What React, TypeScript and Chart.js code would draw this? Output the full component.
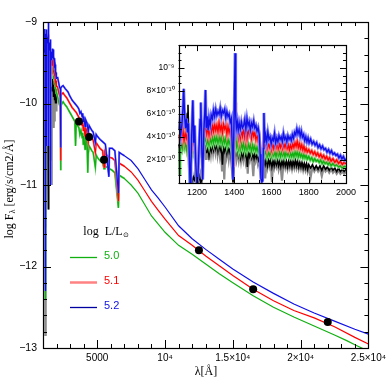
import React, { useEffect, useRef } from 'react';
import { Chart, registerables } from 'chart.js';
Chart.register(...registerables);

// ---------- tick labels ----------
const MAIN_X_TICKS = [5000, 10000, 15000, 20000, 25000];
const MAIN_X_LABELS = ['5000', '10⁴', '1.5×10⁴', '2×10⁴', '2.5×10⁴'];
const MAIN_Y_TICKS = [-13, -12, -11, -10, -9];
const MAIN_Y_LABELS = ['−13', '−12', '−11', '−10', '−9'];
const INSET_X_TICKS = [1200, 1400, 1600, 1800, 2000];
const INSET_X_LABELS = ['1200', '1400', '1600', '1800', '2000'];
const INSET_Y_TICKS = [2, 4, 6, 8, 10];
const INSET_Y_LABELS = ['2×10⁻¹⁰', '4×10⁻¹⁰', '6×10⁻¹⁰', '8×10⁻¹⁰', '10⁻⁹'];
const LEGEND_TITLE = 'log  L/L';
const LEGEND_LABELS = ['5.0', '5.1', '5.2'];

// ---------- photometry (log F) ----------
const PHOT_WL = [3650, 4400, 5500, 12500, 16500, 22000];
const PHOT_LOGF = [-10.22, -10.41, -10.69, -11.8, -12.28, -12.68];

// ---------- UV spectra, flux in units of 1e-10 erg/s/cm2/Å ----------
const UV_52: [number, number][] = [[1100,4.6],[1106,5.4],[1112,4.2],[1118,5.0],[1124,6.5],[1128,8.2],[1133,5.8],[1138,4.8],[1143,5.6],[1148,4.4],[1153,5.2],[1158,2.5],[1162,0.06],[1167,1.5],[1172,4.8],[1177,7.2],[1182,3.5],[1187,5.0],[1192,2.0],[1198,0.005],[1204,0.4],[1210,3.0],[1216,5.5],[1220,7.0],[1225,3.0],[1230,0.3],[1236,4.5],[1241,6.0],[1245,8.1],[1249,4.8],[1254,5.8],[1259,4.6],[1264,5.6],[1270,5.0],[1276,5.9],[1282,5.6],[1288,6.3],[1294,5.8],[1300,6.4],[1306,5.9],[1312,6.2],[1318,6.0],[1324,6.5],[1330,5.8],[1336,6.3],[1342,6.1],[1348,6.4],[1354,5.7],[1360,6.2],[1366,5.8],[1372,6.0],[1378,5.3],[1384,5.6],[1389,3.0],[1393,0.3],[1397,0.3],[1401,8.0],[1404,11.3],[1407,6.0],[1411,4.8],[1416,5.3],[1421,4.6],[1426,5.2],[1432,4.7],[1438,5.3],[1444,4.8],[1450,5.0],[1456,5.5],[1462,4.7],[1468,5.6],[1474,5.0],[1480,5.3],[1486,4.6],[1492,5.2],[1498,4.9],[1504,5.4],[1510,4.8],[1516,5.0],[1522,4.5],[1528,4.8],[1534,4.2],[1539,2.5],[1543,0.4],[1548,0.1],[1552,0.2],[1556,3.0],[1559,6.1],[1563,3.5],[1568,4.2],[1574,3.6],[1580,4.4],[1586,3.8],[1592,4.0],[1598,3.4],[1604,3.9],[1610,3.7],[1616,4.3],[1622,3.5],[1628,3.9],[1634,3.6],[1640,4.1],[1646,3.8],[1652,4.0],[1658,3.6],[1664,4.3],[1670,3.8],[1676,4.0],[1682,3.6],[1688,4.1],[1694,3.8],[1700,4.0],[1706,3.7],[1712,4.2],[1718,3.9],[1724,4.4],[1730,4.2],[1736,4.7],[1742,4.3],[1748,4.6],[1754,4.1],[1760,4.5],[1766,4.0],[1772,4.2],[1778,3.7],[1784,4.0],[1790,3.6],[1796,3.9],[1802,3.5],[1810,3.8],[1818,3.4],[1826,3.6],[1834,3.3],[1842,3.5],[1850,3.1],[1858,3.3],[1866,3.0],[1874,3.2],[1882,2.9],[1890,3.0],[1898,2.7],[1906,2.9],[1914,2.6],[1922,2.8],[1930,2.5],[1938,2.6],[1946,2.4],[1954,2.5],[1962,2.2],[1970,2.4],[1978,2.1],[1986,2.3],[1994,2.0],[2000,2.1]];

const UV_51: [number, number][] = [[1100,4.2],[1106,3.8],[1112,4.5],[1118,4.0],[1124,4.6],[1130,3.7],[1136,4.3],[1142,3.9],[1148,4.4],[1154,3.2],[1160,1.0],[1166,2.5],[1172,4.0],[1178,3.5],[1184,4.2],[1190,2.2],[1197,0.5],[1204,1.2],[1210,3.0],[1216,3.8],[1222,4.5],[1228,2.5],[1234,3.8],[1240,4.4],[1246,5.2],[1252,4.3],[1258,4.8],[1264,4.2],[1270,4.9],[1276,4.4],[1282,5.0],[1288,4.5],[1294,5.1],[1300,4.6],[1306,5.0],[1312,4.5],[1318,5.2],[1324,4.6],[1330,5.0],[1336,4.4],[1342,5.1],[1348,4.7],[1354,5.0],[1360,4.3],[1366,4.9],[1372,4.4],[1378,4.8],[1384,4.0],[1389,3.0],[1393,1.5],[1397,2.0],[1401,5.5],[1404,7.0],[1408,5.2],[1412,4.2],[1417,4.8],[1422,4.0],[1427,4.7],[1432,3.9],[1438,4.6],[1444,4.1],[1450,4.8],[1456,4.0],[1462,4.6],[1468,3.9],[1474,4.7],[1480,4.2],[1486,4.5],[1492,3.9],[1498,4.6],[1504,4.1],[1510,4.4],[1516,3.8],[1522,4.3],[1528,3.7],[1534,4.0],[1540,2.8],[1546,1.8],[1552,2.2],[1558,3.8],[1564,3.2],[1570,3.6],[1576,3.0],[1582,3.5],[1588,3.1],[1594,3.4],[1600,2.9],[1606,3.5],[1612,3.0],[1618,3.4],[1624,3.1],[1630,3.6],[1636,3.0],[1642,3.4],[1648,3.1],[1654,3.5],[1660,3.0],[1666,3.4],[1672,3.1],[1678,3.5],[1684,3.0],[1690,3.3],[1696,2.9],[1702,3.3],[1708,3.0],[1714,3.4],[1720,3.1],[1726,3.5],[1732,3.2],[1738,3.6],[1744,3.1],[1750,3.4],[1756,3.0],[1762,3.3],[1768,2.9],[1774,3.2],[1780,2.8],[1786,3.0],[1792,2.7],[1800,2.9],[1808,2.6],[1816,2.8],[1824,2.5],[1832,2.7],[1840,2.4],[1848,2.6],[1856,2.3],[1864,2.5],[1872,2.2],[1880,2.4],[1888,2.1],[1896,2.3],[1904,2.0],[1912,2.2],[1920,1.9],[1930,2.1],[1940,1.8],[1950,2.0],[1960,1.7],[1970,1.9],[1980,1.6],[1990,1.8],[2000,1.65]];

const UV_50: [number, number][] = [[1100,3.0],[1104,0.8],[1108,2.8],[1114,3.4],[1120,3.0],[1126,3.6],[1132,3.1],[1138,3.5],[1144,2.9],[1150,3.4],[1156,2.2],[1161,0.004],[1166,2.0],[1172,3.3],[1178,2.8],[1184,3.4],[1190,2.0],[1196,0.5],[1203,1.0],[1210,2.6],[1216,3.2],[1222,3.6],[1228,2.2],[1234,3.2],[1240,3.6],[1246,3.9],[1252,3.4],[1258,3.8],[1264,3.3],[1270,3.9],[1276,3.5],[1282,4.0],[1288,3.5],[1294,4.0],[1300,3.6],[1306,4.0],[1312,3.5],[1318,4.1],[1324,3.6],[1330,4.0],[1336,3.4],[1342,3.9],[1348,3.5],[1354,3.9],[1360,3.3],[1366,3.8],[1372,3.4],[1378,3.7],[1384,3.0],[1389,2.4],[1393,1.6],[1397,2.0],[1401,4.2],[1404,5.0],[1408,3.8],[1412,3.2],[1417,3.6],[1422,3.0],[1427,3.5],[1432,2.9],[1438,3.4],[1444,3.0],[1450,3.5],[1456,2.9],[1462,3.4],[1468,2.9],[1474,3.4],[1480,3.0],[1486,3.3],[1492,2.8],[1498,3.3],[1504,2.9],[1510,3.2],[1516,2.8],[1522,3.1],[1528,2.7],[1534,3.0],[1540,2.2],[1546,1.6],[1552,1.9],[1558,2.9],[1564,2.5],[1570,2.8],[1576,2.3],[1582,2.7],[1588,2.4],[1594,2.7],[1600,2.3],[1606,2.7],[1612,2.4],[1618,2.7],[1624,2.3],[1630,2.8],[1636,2.4],[1642,2.7],[1648,2.3],[1654,2.7],[1660,2.4],[1666,2.7],[1672,2.3],[1678,2.7],[1684,2.4],[1690,2.6],[1696,2.3],[1702,2.6],[1708,2.3],[1714,2.6],[1720,2.3],[1726,2.7],[1732,2.4],[1738,2.7],[1744,2.3],[1750,2.6],[1756,2.3],[1762,2.5],[1768,2.2],[1774,2.5],[1780,2.2],[1786,2.4],[1792,2.1],[1800,2.3],[1808,2.0],[1816,2.2],[1824,1.9],[1832,2.1],[1840,1.9],[1848,2.0],[1856,1.8],[1864,2.0],[1872,1.7],[1880,1.9],[1888,1.7],[1896,1.8],[1904,1.6],[1912,1.8],[1920,1.5],[1930,1.7],[1940,1.5],[1950,1.6],[1960,1.4],[1970,1.5],[1980,1.3],[1990,1.45],[2000,1.4]];

const UV_OBS: [number, number][] = [[1100,3.4],[1106,2.6],[1112,3.8],[1118,2.9],[1124,4.2],[1130,3.0],[1136,4.8],[1142,3.6],[1147,6.0],[1151,6.8],[1155,4.0],[1160,1.0],[1165,0.03],[1172,0.04],[1180,0.5],[1188,0.2],[1196,1.5],[1204,0.04],[1212,0.6],[1220,0.04],[1228,0.4],[1234,2.2],[1240,3.6],[1246,4.9],[1252,2.6],[1258,3.3],[1264,2.4],[1270,3.2],[1276,2.8],[1282,3.4],[1288,2.9],[1294,3.5],[1300,3.0],[1306,3.5],[1312,2.8],[1318,3.4],[1324,2.9],[1330,3.4],[1336,1.6],[1342,3.3],[1348,2.8],[1354,3.3],[1360,2.6],[1366,3.2],[1372,2.7],[1378,3.1],[1384,2.4],[1389,1.2],[1393,0.05],[1397,0.05],[1401,2.5],[1405,3.4],[1410,2.6],[1416,3.0],[1422,2.4],[1428,2.9],[1434,2.2],[1440,2.8],[1446,2.3],[1452,2.9],[1458,2.4],[1464,2.8],[1470,1.4],[1476,2.7],[1482,2.3],[1488,2.7],[1494,2.2],[1500,2.6],[1506,2.1],[1512,2.6],[1518,2.2],[1524,2.5],[1530,2.0],[1536,2.3],[1542,1.2],[1548,0.2],[1554,1.0],[1560,2.0],[1566,1.6],[1572,2.1],[1578,1.5],[1584,2.0],[1590,1.6],[1596,2.1],[1602,1.4],[1608,1.9],[1614,1.5],[1620,2.0],[1626,1.6],[1632,2.0],[1638,1.5],[1644,1.9],[1650,1.4],[1656,1.9],[1662,1.5],[1668,2.0],[1674,1.5],[1680,1.9],[1686,1.4],[1692,1.9],[1698,1.5],[1704,1.9],[1710,1.4],[1716,1.9],[1722,1.5],[1728,2.0],[1734,1.5],[1740,1.9],[1746,1.4],[1752,1.8],[1758,1.4],[1764,1.8],[1770,1.3],[1776,1.7],[1782,1.3],[1788,1.7],[1794,1.2],[1800,1.6],[1810,1.3],[1820,1.6],[1830,1.2],[1840,1.5],[1850,1.2],[1860,1.5],[1870,1.1],[1880,1.5],[1890,1.2],[1900,1.4],[1910,1.1],[1920,1.4],[1930,1.1],[1940,1.3],[1950,1.0],[1960,1.3],[1970,1.0],[1980,1.2],[1990,1.0],[2000,1.2]];

const UV_OBS_RAW: [number, number][] = [[1100,3.0],[1108,4.0],[1114,2.5],[1120,4.5],[1126,3.2],[1132,5.5],[1138,3.4],[1144,5.2],[1150,6.2],[1156,3.0],[1162,0.0014],[1170,0.3],[1178,0.1],[1186,0.8],[1194,0.05],[1202,0.4],[1210,0.02],[1218,0.8],[1226,0.1],[1234,3.0],[1242,4.2],[1248,2.0],[1256,3.6],[1262,2.0],[1268,3.3],[1274,2.5],[1280,3.5],[1286,2.6],[1292,3.4],[1298,2.7],[1304,3.6],[1310,2.5],[1316,3.3],[1322,2.4],[1328,3.2],[1334,1.0],[1340,3.0],[1346,0.3],[1352,3.1],[1358,2.3],[1364,3.0],[1370,2.1],[1376,3.0],[1382,2.0],[1388,1.0],[1394,0.05],[1400,2.0],[1406,3.0],[1412,2.1],[1418,2.8],[1424,2.0],[1430,2.7],[1436,1.9],[1442,2.6],[1448,2.0],[1454,2.7],[1460,1.9],[1466,2.6],[1472,0.8],[1478,2.5],[1484,2.0],[1490,2.5],[1496,1.9],[1502,0.6],[1508,2.4],[1514,1.9],[1520,2.3],[1526,1.7],[1532,2.2],[1538,1.0],[1546,0.1],[1554,0.6],[1560,1.8],[1566,0.4],[1572,1.9],[1578,1.3],[1584,1.8],[1590,1.4],[1596,1.9],[1602,0.1],[1608,1.7],[1614,1.3],[1620,1.8],[1626,1.4],[1632,1.8],[1638,1.2],[1644,1.7],[1650,1.2],[1656,0.2],[1662,1.3],[1668,1.8],[1674,1.3],[1680,1.7],[1686,1.2],[1692,1.7],[1698,1.3],[1704,1.7],[1710,1.2],[1716,1.7],[1722,1.3],[1728,1.8],[1734,1.3],[1740,1.7],[1746,1.2],[1752,1.6],[1758,1.2],[1764,1.6],[1770,1.1],[1776,1.5],[1782,1.1],[1788,1.5],[1794,1.0],[1800,1.4],[1810,0.5],[1820,1.4],[1830,1.0],[1840,1.3],[1850,1.0],[1860,1.3],[1870,0.6],[1880,1.3],[1890,1.0],[1900,1.2],[1910,0.9],[1920,1.2],[1930,0.9],[1940,1.1],[1950,0.8],[1960,1.1],[1970,0.8],[1980,1.0],[1990,0.8],[2000,1.0]];

// ---------- optical / IR model SEDs, log F ----------
const OPT_52: [number, number][] = [[2080,-9.68],[2150,-9.74],[2220,-9.8],[2280,-9.82],[2300,-10.54],[2320,-9.81],[2400,-9.79],[2480,-9.78],[2560,-9.8],[2650,-9.82],[2750,-9.84],[2850,-9.86],[2950,-9.9],[3050,-9.93],[3150,-9.96],[3250,-9.98],[3350,-10.0],[3450,-10.02],[3550,-10.04],[3650,-10.07],[3720,-10.12],[3800,-10.1],[3890,-10.16],[3930,-10.12],[3970,-10.22],[4010,-10.16],[4100,-10.28],[4150,-10.2],[4250,-10.24],[4340,-10.35],[4400,-10.27],[4500,-10.3],[4600,-10.33],[4700,-10.35],[4860,-10.48],[4920,-10.38],[5000,-10.4],[5200,-10.44],[5400,-10.47],[5600,-10.5],[5860,-10.9],[5900,-10.55],[6100,-10.55],[6300,-10.58],[6563,-11.1],[6620,-10.6],[6800,-10.62],[7000,-10.64],[7500,-10.7],[8000,-10.8],[8500,-10.93],[9000,-11.06],[9500,-11.16],[10000,-11.27],[11000,-11.5],[12000,-11.66],[13000,-11.79],[14000,-11.91],[15000,-12.03],[16500,-12.19],[18000,-12.33],[19500,-12.46],[21000,-12.57],[22500,-12.67],[24000,-12.77],[25000,-12.83]];

const OPT_51: [number, number][] = [[2080,-9.8],[2150,-9.86],[2220,-9.9],[2280,-9.92],[2300,-10.7],[2320,-9.91],[2400,-9.88],[2480,-9.87],[2560,-9.89],[2650,-9.91],[2750,-9.93],[2850,-9.96],[2950,-9.99],[3050,-10.02],[3150,-10.05],[3250,-10.07],[3350,-10.09],[3450,-10.11],[3550,-10.14],[3650,-10.17],[3720,-10.24],[3800,-10.2],[3890,-10.27],[3930,-10.22],[3970,-10.33],[4010,-10.26],[4100,-10.4],[4150,-10.3],[4250,-10.34],[4340,-10.47],[4400,-10.37],[4500,-10.4],[4600,-10.43],[4700,-10.45],[4860,-10.6],[4920,-10.48],[5000,-10.5],[5200,-10.55],[5400,-10.58],[5500,-10.78],[5560,-10.6],[5600,-10.62],[5900,-10.66],[6100,-10.67],[6300,-10.7],[6563,-11.2],[6620,-10.73],[6800,-10.75],[7000,-10.77],[7500,-10.84],[8000,-10.94],[8500,-11.07],[9000,-11.2],[9500,-11.31],[10000,-11.42],[11000,-11.62],[12000,-11.74],[13000,-11.87],[14000,-11.99],[15000,-12.11],[16500,-12.28],[18000,-12.42],[19500,-12.54],[21000,-12.63],[22500,-12.74],[24000,-12.87],[25000,-12.95]];

const OPT_50: [number, number][] = [[2080,-9.92],[2150,-9.98],[2220,-10.02],[2280,-10.04],[2300,-10.82],[2320,-10.03],[2400,-10.0],[2480,-9.98],[2560,-10.0],[2650,-10.02],[2750,-10.04],[2850,-10.07],[2950,-10.1],[3050,-10.13],[3150,-10.16],[3250,-10.19],[3350,-10.22],[3400,-10.52],[3450,-10.24],[3550,-10.27],[3650,-10.3],[3720,-10.38],[3800,-10.33],[3890,-10.42],[3930,-10.36],[3970,-10.5],[4010,-10.4],[4100,-10.56],[4150,-10.44],[4250,-10.48],[4300,-10.85],[4340,-10.62],[4400,-10.52],[4500,-10.55],[4600,-10.58],[4700,-10.6],[4860,-10.78],[4920,-10.63],[5000,-10.66],[5200,-10.7],[5400,-10.73],[5500,-10.8],[5560,-10.76],[5600,-10.77],[5900,-10.8],[6100,-10.82],[6300,-10.85],[6563,-11.28],[6620,-10.88],[6800,-10.9],[7000,-10.92],[7500,-11.0],[8000,-11.1],[8500,-11.24],[9000,-11.38],[9500,-11.48],[10000,-11.58],[11000,-11.74],[12000,-11.85],[13000,-11.97],[14000,-12.09],[15000,-12.2],[16500,-12.36],[18000,-12.5],[19500,-12.62],[21000,-12.73],[22500,-12.84],[23400,-12.91],[24000,-12.96],[25000,-13.04]];

// ---------- colours ----------
const C_BLUE = '#1010e6';
const C_BLUE_L = '#8282ff';
const C_BLUE_LEG = '#0000a0';
const C_RED = '#ff0000';
const C_RED_L = '#ff8282';
const C_GREEN = '#10b010';
const C_GREEN_L = '#78d878';
const C_BLACK = '#000000';
const C_GRAY = '#8c8c8c';

const SANS = '"Liberation Sans", Arial, sans-serif';
const SERIF = '"Liberation Serif", "Times New Roman", serif';

const pts = (arr: [number, number][]) => arr.map(([x, y]) => ({ x, y }));
const logPts = (arr: [number, number][]) => arr.map(([x, f]) => ({ x, y: Math.log10(f * 1e-10) }));

function lineDS(data: any[], color: string, width: number) {
  return { data, borderColor: color, backgroundColor: color, borderWidth: width, pointRadius: 0, tension: 0, fill: false };
}

function frameTicks(chart: any, xs: { v: number; major: boolean }[], ys: { v: number; major: boolean }[], majLen: number, minLen: number) {
  const { ctx, chartArea: a, scales } = chart;
  ctx.save();
  ctx.strokeStyle = '#000';
  ctx.lineWidth = 1;
  ctx.beginPath();
  for (const t of xs) {
    const p = Math.round(scales.x.getPixelForValue(t.v)) + 0.5;
    const l = t.major ? majLen : minLen;
    ctx.moveTo(p, a.bottom); ctx.lineTo(p, a.bottom - l);
    ctx.moveTo(p, a.top); ctx.lineTo(p, a.top + l);
  }
  for (const t of ys) {
    const p = Math.round(scales.y.getPixelForValue(t.v)) + 0.5;
    const l = t.major ? majLen : minLen;
    ctx.moveTo(a.left, p); ctx.lineTo(a.left + l, p);
    ctx.moveTo(a.right, p); ctx.lineTo(a.right - l, p);
  }
  ctx.stroke();
  ctx.lineWidth = 1.2;
  ctx.strokeRect(Math.round(a.left) + 0.5, Math.round(a.top) + 0.5, Math.round(a.right - a.left), Math.round(a.bottom - a.top));
  ctx.restore();
}

function drawParts(ctx: any, parts: { t: string; size: number; dy: number; font: string }[], cx: number, cy: number, color: string) {
  let total = 0;
  for (const p of parts) { ctx.font = `${p.size}px ${p.font}`; total += ctx.measureText(p.t).width; }
  let x = cx - total / 2;
  ctx.fillStyle = color;
  ctx.textBaseline = 'middle';
  ctx.textAlign = 'left';
  for (const p of parts) {
    ctx.font = `${p.size}px ${p.font}`;
    ctx.fillText(p.t, x, cy + p.dy);
    x += ctx.measureText(p.t).width;
  }
}

const mainDecor = {
  id: 'mainDecor',
  afterDatasetsDraw(chart: any) {
    const xs: { v: number; major: boolean }[] = [];
    for (let v = 1000; v <= 25000; v += 1000) xs.push({ v, major: v % 5000 === 0 });
    const ys: { v: number; major: boolean }[] = [];
    for (let k = 0; k <= 20; k++) ys.push({ v: -13 + k * 0.2, major: k % 5 === 0 });
    frameTicks(chart, xs, ys, 8, 4);
  },
  afterDraw(chart: any) {
    const ctx = chart.ctx;
    ctx.save();
    ctx.translate(10, 189);
    ctx.rotate(-Math.PI / 2);
    drawParts(ctx, [
      { t: 'log F', size: 12, dy: 0, font: SERIF },
      { t: 'λ', size: 8.5, dy: 3, font: SERIF },
      { t: ' [erg/s/cm2/Å]', size: 12, dy: 0, font: SERIF },
    ], 0, 0, '#000');
    ctx.restore();
    ctx.save();
    drawParts(ctx, [{ t: 'λ[Å]', size: 12, dy: 0, font: SERIF }], 206, 372, '#000');
    drawParts(ctx, [
      { t: LEGEND_TITLE, size: 12, dy: 0, font: SERIF },
      { t: '⊙', size: 7, dy: 3, font: SANS },
    ], 106, 232, '#000');
    const legCols = [C_GREEN, C_RED_L, C_BLUE_LEG];
    const legText = [C_GREEN, C_RED, C_BLUE];
    const legW = [1.3, 2.5, 1.3];
    const legY = [257.5, 282.5, 307.5];
    for (let i = 0; i < 3; i++) {
      ctx.strokeStyle = legCols[i];
      ctx.lineWidth = legW[i];
      ctx.beginPath();
      ctx.moveTo(70, legY[i]); ctx.lineTo(97, legY[i]);
      ctx.stroke();
      ctx.font = `11px ${SANS}`;
      ctx.fillStyle = legText[i];
      ctx.textAlign = 'left';
      ctx.textBaseline = 'middle';
      ctx.fillText(LEGEND_LABELS[i], 104, legY[i] - 2);
    }
    ctx.restore();
  },
};

const insetDecor = {
  id: 'insetDecor',
  beforeDatasetsDraw(chart: any) {
    const { ctx, chartArea: a } = chart;
    ctx.save();
    ctx.fillStyle = '#fff';
    ctx.fillRect(a.left, a.top, a.right - a.left, a.bottom - a.top);
    ctx.restore();
  },
  afterDatasetsDraw(chart: any) {
    const xs: { v: number; major: boolean }[] = [];
    for (let k = -1; k <= 12; k++) xs.push({ v: 1200 + (k * 200) / 3, major: k % 3 === 0 });
    const ys: { v: number; major: boolean }[] = [];
    for (let k = 0; k <= 18; k++) ys.push({ v: (k * 2) / 3, major: k % 3 === 0 });
    frameTicks(chart, xs, ys, 6, 3);
  },
};

function mainConfig(): any {
  const blue = [...logPts(UV_52), ...pts(OPT_52)];
  const red = [...logPts(UV_51), ...pts(OPT_51)];
  const green = [...logPts(UV_50), ...pts(OPT_50)];
  const halo = (d: any[]) => d.filter((p) => p.x <= 7000);
  const dots = PHOT_WL.map((x, i) => ({ x, y: PHOT_LOGF[i] }));
  return {
    type: 'line',
    data: {
      datasets: [
        { data: dots, showLine: false, pointRadius: 4, pointBackgroundColor: '#000', pointBorderColor: '#000', borderWidth: 0 },
        lineDS(blue, C_BLUE, 1.2),
        lineDS(halo(blue), C_BLUE_L, 2),
        lineDS(red, C_RED, 1.2),
        lineDS(halo(red), C_RED_L, 2),
        lineDS(green, C_GREEN, 1.2),
        lineDS(halo(green), C_GREEN_L, 2),
        lineDS(logPts(UV_OBS), C_BLACK, 1.5),
        lineDS(logPts(UV_OBS_RAW), C_GRAY, 2.5),
      ],
    },
    options: {
      animation: false,
      responsive: true,
      maintainAspectRatio: false,
      events: [],
      layout: { padding: { top: 22, right: 21, left: 0, bottom: 0 } },
      plugins: { legend: { display: false }, tooltip: { enabled: false } },
      scales: {
        x: {
          type: 'linear', min: 1000, max: 25000,
          grid: { display: false, drawTicks: false }, border: { display: false },
          afterBuildTicks: (s: any) => { s.ticks = MAIN_X_TICKS.map((v) => ({ value: v })); },
          afterFit: (s: any) => { s.height = 42; },
          ticks: {
            callback: (v: any) => MAIN_X_LABELS[MAIN_X_TICKS.indexOf(Number(v))] ?? '',
            font: { family: SANS, size: 10 }, color: '#000', padding: 4, maxRotation: 0, autoSkip: false,
          },
        },
        y: {
          type: 'linear', min: -13, max: -9,
          grid: { display: false, drawTicks: false }, border: { display: false },
          afterBuildTicks: (s: any) => { s.ticks = MAIN_Y_TICKS.map((v) => ({ value: v })); },
          afterFit: (s: any) => { s.width = 43; },
          ticks: {
            callback: (v: any) => MAIN_Y_LABELS[MAIN_Y_TICKS.indexOf(Number(v))] ?? '',
            font: { family: SANS, size: 10.5 }, color: '#000', padding: 6, autoSkip: false,
          },
        },
      },
    },
    plugins: [mainDecor],
  };
}

function insetConfig(): any {
  return {
    type: 'line',
    data: {
      datasets: [
        lineDS(pts(UV_52), C_BLUE, 1.4),
        lineDS(pts(UV_52), C_BLUE_L, 3),
        lineDS(pts(UV_51), C_RED, 1.4),
        lineDS(pts(UV_51), C_RED_L, 3),
        lineDS(pts(UV_50), C_GREEN, 1.4),
        lineDS(pts(UV_50), C_GREEN_L, 3),
        lineDS(pts(UV_OBS), C_BLACK, 1.6),
        lineDS(pts(UV_OBS_RAW), C_GRAY, 2.2),
      ],
    },
    options: {
      animation: false,
      responsive: true,
      maintainAspectRatio: false,
      events: [],
      layout: { padding: { top: 9, right: 11.5, left: 0, bottom: 0 } },
      plugins: { legend: { display: false }, tooltip: { enabled: false } },
      scales: {
        x: {
          type: 'linear', min: 1100, max: 2000,
          grid: { display: false, drawTicks: false }, border: { display: false },
          afterBuildTicks: (s: any) => { s.ticks = INSET_X_TICKS.map((v) => ({ value: v })); },
          afterFit: (s: any) => { s.height = 23; },
          ticks: {
            callback: (v: any) => INSET_X_LABELS[INSET_X_TICKS.indexOf(Number(v))] ?? '',
            font: { family: SANS, size: 9 }, color: '#000', padding: 4, maxRotation: 0, autoSkip: false,
          },
        },
        y: {
          type: 'linear', min: 0, max: 12,
          grid: { display: false, drawTicks: false }, border: { display: false },
          afterBuildTicks: (s: any) => { s.ticks = INSET_Y_TICKS.map((v) => ({ value: v })); },
          afterFit: (s: any) => { s.width = 50.5; },
          ticks: {
            callback: (v: any) => INSET_Y_LABELS[INSET_Y_TICKS.indexOf(Number(v))] ?? '',
            font: { family: SANS, size: 8.5 }, color: '#000', padding: 4, autoSkip: false,
          },
        },
      },
    },
    plugins: [insetDecor],
  };
}

export default function App() {
  const mainRef = useRef<HTMLCanvasElement>(null);
  const insetRef = useRef<HTMLCanvasElement>(null);
  useEffect(() => {
    const main = new Chart(mainRef.current as HTMLCanvasElement, mainConfig());
    const inset = new Chart(insetRef.current as HTMLCanvasElement, insetConfig());
    return () => { main.destroy(); inset.destroy(); };
  }, []);
  return (
    <div style={{ position: 'fixed', left: 0, top: 0, width: 390, height: 390, background: '#fff' }}>
      <div style={{ position: 'absolute', left: 0, top: 0, width: 390, height: 390 }}>
        <canvas ref={mainRef} />
      </div>
      <div style={{ position: 'absolute', left: 128, top: 36, width: 232, height: 170 }}>
        <canvas ref={insetRef} />
      </div>
    </div>
  );
}
